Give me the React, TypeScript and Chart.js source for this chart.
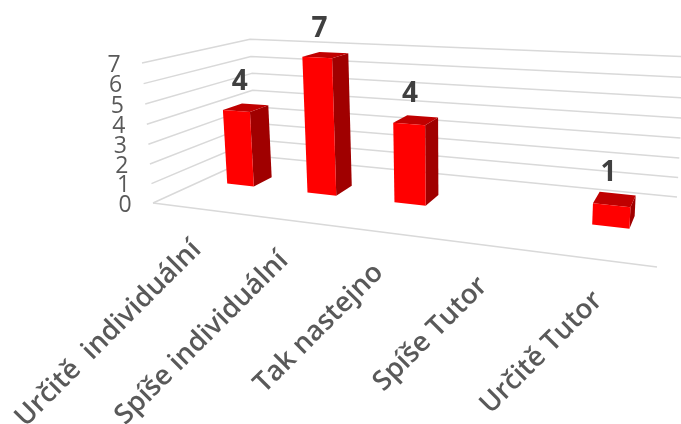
import React, { useEffect, useRef } from "react";
import { Chart, registerables } from "chart.js";

Chart.register(...registerables);

const categories = ["Určitě  individuální", "Spíše individuální", "Tak nastejno", "Spíše Tutor", "Určitě Tutor"];
const answers = [4, 7, 4, 0, 1];
const valueTicks = [0, 1, 2, 3, 4, 5, 6, 7];

const FONT = '"Open Sans", sans-serif';

type Pt = [number, number];

// Square-to-quad homography for the floor plane: (u, d) with u along the
// categories and d running into the depth of the scene.
function floorHomography(p00: Pt, p10: Pt, p11: Pt, p01: Pt) {
  const [x0, y0] = p00, [x1, y1] = p10, [x2, y2] = p11, [x3, y3] = p01;
  const dx1 = x1 - x2, dx2 = x3 - x2, sx = x0 - x1 + x2 - x3;
  const dy1 = y1 - y2, dy2 = y3 - y2, sy = y0 - y1 + y2 - y3;
  const den = dx1 * dy2 - dx2 * dy1;
  const g = (sx * dy2 - dx2 * sy) / den;
  const h = (dx1 * sy - sx * dy1) / den;
  return {
    a: x1 - x0 + g * x1, b: x3 - x0 + h * x3, c: x0,
    d: y1 - y0 + g * y1, e: y3 - y0 + h * y3, f: y0,
    g, h,
  };
}

const H = floorHomography([153, 203], [657, 267], [677, 197], [256, 156]);
// Vanishing point of the vertical edges and the scale of the height axis.
const VP: Pt = [453, 4025];
const KAPPA = (63 - 203) / (VP[1] - 63);

function project(u: number, v: number, d: number): Pt {
  const w = H.g * u + H.h * d + 1 + KAPPA * v;
  const x = H.a * u + H.b * d + H.c + KAPPA * v * VP[0];
  const y = H.d * u + H.e * d + H.f + KAPPA * v * VP[1];
  return [x / w, y / w];
}

function poly(ctx: CanvasRenderingContext2D, pts: Pt[], fill: string) {
  ctx.beginPath();
  pts.forEach((p, i) => (i ? ctx.lineTo(p[0], p[1]) : ctx.moveTo(p[0], p[1])));
  ctx.closePath();
  ctx.fillStyle = fill;
  ctx.fill();
}

const DEPTH_FRONT = 0.43;
const DEPTH_BACK = 0.62;

// Draws the axes, the boxes and their labels in perspective, reading every
// position from the chart's own scales and bar elements.
const perspectivePlugin = {
  id: "perspective",
  afterDatasetsDraw(chart: any) {
    const { ctx, chartArea: ca, scales } = chart;
    const toU = (px: number) => (px - ca.left) / (ca.right - ca.left);
    const toV = (py: number) => (ca.bottom - py) / (ca.bottom - ca.top);
    const yScale = scales.y;
    const xScale = scales.x;

    ctx.save();
    ctx.strokeStyle = "#d9d9d9";
    ctx.lineWidth = 1.5;
    ctx.lineJoin = "round";
    yScale.ticks.forEach((t: any) => {
      const v = toV(yScale.getPixelForValue(t.value));
      const a = project(0, v, 0), b = project(0, v, 1), c = project(1, v, 1);
      ctx.beginPath();
      ctx.moveTo(a[0], a[1]);
      ctx.lineTo(b[0], b[1]);
      ctx.lineTo(c[0], c[1]);
      ctx.stroke();
      ctx.font = `23px ${FONT}`;
      ctx.fillStyle = "#595959";
      ctx.textAlign = "center";
      ctx.textBaseline = "middle";
      ctx.fillText(String(t.value), a[0] - 28, a[1] + 2);
    });
    const f0 = project(0, 0, 0), f1 = project(1, 0, 0);
    ctx.beginPath();
    ctx.moveTo(f0[0], f0[1]);
    ctx.lineTo(f1[0], f1[1]);
    ctx.stroke();

    const meta = chart.getDatasetMeta(0);
    meta.data.forEach((bar: any, i: number) => {
      const value = answers[i];
      const uL = toU(bar.x - bar.width / 2);
      const uR = toU(bar.x + bar.width / 2);
      const uC = toU(bar.x);
      const vT = toV(bar.y);
      const vB = toV(bar.base);
      if (value > 0) {
        poly(ctx, [project(uR, vB, DEPTH_FRONT), project(uR, vB, DEPTH_BACK), project(uR, vT, DEPTH_BACK), project(uR, vT, DEPTH_FRONT)], "#a00000");
        poly(ctx, [project(uL, vT, DEPTH_FRONT), project(uR, vT, DEPTH_FRONT), project(uR, vT, DEPTH_BACK), project(uL, vT, DEPTH_BACK)], "#c00000");
        poly(ctx, [project(uL, vB, DEPTH_FRONT), project(uR, vB, DEPTH_FRONT), project(uR, vT, DEPTH_FRONT), project(uL, vT, DEPTH_FRONT)], "#ff0000");
        const top = project(uC, vT, (DEPTH_FRONT + DEPTH_BACK) / 2);
        ctx.font = `bold 28px ${FONT}`;
        ctx.fillStyle = "#404040";
        ctx.textAlign = "center";
        ctx.textBaseline = "middle";
        ctx.fillText(String(value), top[0] - 6, top[1] - 26);
      }
      const edge = project(uC, 0, 0);
      ctx.save();
      ctx.translate(edge[0] + 3, edge[1] + 37);
      ctx.rotate(-Math.PI / 4);
      ctx.font = `600 27.5px ${FONT}`;
      ctx.fillStyle = "#595959";
      ctx.textAlign = "right";
      ctx.textBaseline = "middle";
      ctx.fillText(xScale.getLabelForValue(i), 0, 0);
      ctx.restore();
    });
    ctx.restore();
  },
};

export default function App() {
  const ref = useRef<HTMLCanvasElement>(null);
  useEffect(() => {
    document.body.style.margin = "0";
    const chart = new Chart(ref.current!, {
      type: "bar",
      data: {
        labels: categories,
        datasets: [{ data: answers, backgroundColor: "transparent", borderWidth: 0, barPercentage: 0.34, categoryPercentage: 1 }],
      },
      options: {
        animation: false,
        responsive: false,
        layout: { padding: 0 },
        plugins: { legend: { display: false }, tooltip: { enabled: false } },
        scales: {
          x: { display: false, offset: true },
          y: {
            display: false,
            min: valueTicks[0],
            max: valueTicks[valueTicks.length - 1],
            ticks: { stepSize: 1 },
          },
        },
      },
      plugins: [perspectivePlugin],
    });
    return () => chart.destroy();
  }, []);
  return (
    <div style={{ width: 681, height: 424, background: "#fff", overflow: "hidden" }}>
      <canvas ref={ref} width={681} height={424} style={{ display: "block" }} />
    </div>
  );
}
